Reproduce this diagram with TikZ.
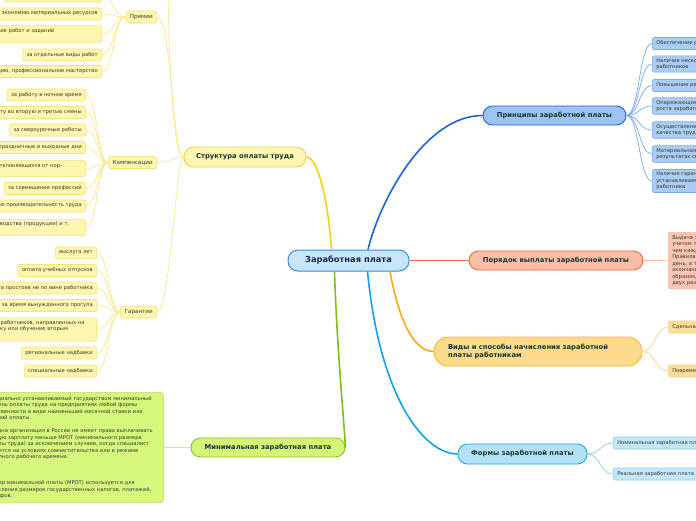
\documentclass[tikz,border=0pt]{standalone}
\usepackage{fontspec}
\setmainfont{DejaVu Sans}
\definecolor{rootfill}{RGB}{200,230,250}
\definecolor{rootline}{RGB}{60,140,220}
\definecolor{roottext}{RGB}{20,40,80}
\definecolor{brtext}{RGB}{25,55,45}
\definecolor{lftext}{RGB}{55,55,45}
\definecolor{prfill}{RGB}{155,195,245}
\definecolor{prline}{RGB}{25,100,215}
\definecolor{prleaf}{RGB}{170,205,248}
\definecolor{prtwig}{RGB}{120,170,240}
\definecolor{orfill}{RGB}{250,190,168}
\definecolor{orline}{RGB}{240,105,65}
\definecolor{orleaf}{RGB}{250,198,178}
\definecolor{ortwig}{RGB}{248,185,160}
\definecolor{kdfill}{RGB}{253,218,140}
\definecolor{kdline}{RGB}{250,185,40}
\definecolor{kdconn}{RGB}{250,170,20}
\definecolor{kdleaf}{RGB}{253,222,150}
\definecolor{kdtwig}{RGB}{250,210,130}
\definecolor{fmfill}{RGB}{180,225,250}
\definecolor{fmline}{RGB}{30,165,235}
\definecolor{fmconn}{RGB}{20,160,240}
\definecolor{fmleaf}{RGB}{195,232,250}
\definecolor{fmtwig}{RGB}{140,205,240}
\definecolor{stfill}{RGB}{255,246,180}
\definecolor{stline}{RGB}{240,215,60}
\definecolor{stconn}{RGB}{240,212,20}
\definecolor{stleaf}{RGB}{255,246,175}
\definecolor{sttwig}{RGB}{250,232,140}
\definecolor{mnfill}{RGB}{212,245,120}
\definecolor{mnline}{RGB}{135,195,30}
\definecolor{mnconn}{RGB}{130,190,20}
\definecolor{mnleaf}{RGB}{215,248,125}
\definecolor{mntwig}{RGB}{200,230,150}
\newcommand{\leafsize}{\fontsize{5.2}{6.5}\selectfont}

\begin{document}
\begin{tikzpicture}[x=1pt,y=-1pt,
      root/.style={draw=rootline,fill=rootfill,line width=1pt,rounded corners=10pt,
        minimum width=121,minimum height=21,text=roottext,
        font=\fontsize{8.3}{10}\selectfont\bfseries},
      branch/.style={line width=.9pt,rounded corners=9.5pt,minimum height=19,
        text=brtext,font=\fontsize{6.8}{8.5}\selectfont\bfseries},
      sub/.style={draw=stline!70,fill=stleaf,line width=.6pt,rounded corners=2pt,
        minimum height=12,inner xsep=4,text=lftext,font=\fontsize{5.6}{7}\selectfont},
      leaf/.style={line width=.6pt,rounded corners=2pt,minimum height=12,
        inner xsep=4,inner ysep=2.5,text=lftext,font=\leafsize},
      pl/.style={leaf,fill=prleaf,draw=prtwig,anchor=west,text width=260,align=left},
      sl/.style={leaf,fill=stleaf,draw=stline!70,anchor=east},
      conn/.style={line width=1.6pt},
      twig/.style={line width=.7pt}]
  \fill[white] (0,0) rectangle (696,520);
  \useasboundingbox (0,0) rectangle (696,520);
  \clip (0,0) rectangle (696,520);

  \node[root] (root) at (348.5,260.5) {Заработная плата};

  % main branches
  \node[branch,fill=prfill,draw=prline,minimum width=143] (princ) at (554.5,115.5)
    {Принципы заработной платы};
  \node[branch,fill=orfill,draw=orline,minimum width=174] (order) at (556,260.5)
    {Порядок выплаты заработной платы};
  \node[branch,fill=kdfill,draw=kdline,minimum height=29,rounded corners=14pt,
    text width=180,inner xsep=14,align=left] (kinds) at (538,351.5)
    {Виды и способы начисления заработной\\платы работникам};
  \node[branch,fill=fmfill,draw=fmline,minimum width=129,minimum height=20] (forms)
    at (522.5,454) {Формы заработной платы};
  \node[branch,fill=stfill,draw=stline,minimum width=122,minimum height=20] (struct)
    at (245,157) {Структура оплаты труда};
  \node[branch,fill=mnfill,draw=mnline,minimum width=154] (minpay) at (268,447.5)
    {Минимальная заработная плата};

  \draw[conn,draw=prline] ([xshift=19.5]root.north) .. controls (380,200) and (425,115.5) .. (princ.west);
  \draw[conn,draw=orline] (root.east) -- (order.west);
  \draw[conn,draw=kdconn] ([xshift=41.5]root.south) .. controls (398,315) and (412,351.5) .. (kinds.west);
  \draw[conn,draw=fmconn] ([xshift=19]root.south) .. controls (380,400) and (425,454) .. (forms.west);
  \draw[conn,draw=stconn] ([xshift=-17]root.north) .. controls (328,200) and (318,157) .. (struct.east);
  \draw[conn,draw=mnconn] ([xshift=-14]root.south) .. controls (337,350) and (344,420) .. (minpay.east);

  % principles
  \node[pl] (p1) at (652,43.5) {Обеспечение равной оплаты за равный труд};
  \node[pl] (p2) at (652,64) {Наличие нескольких форм оплаты для разных\\работников};
  \node[pl] (p3) at (652,85.5) {Повышение реальной заработной платы};
  \node[pl] (p4) at (652,106) {Опережающие темпы роста производительности труда над темпами\\роста заработной платы};
  \node[pl] (p5) at (652,130) {Осуществление дифференциации оплаты с учетом\\качества труда};
  \node[pl] (p6) at (652,154) {Материальная заинтересованность работников в\\результатах своего труда};
  \node[pl] (p7) at (652,181) {Наличие гарантий оплаты труда,\\устанавливаемых государством для каждого\\работника};
  \foreach \i in {1,...,7}
    \draw[twig,draw=prtwig] (princ.east) .. controls +(13,0) and +(-13,0) .. (p\i.west);

  % order
  \node[leaf,fill=orleaf,draw=ortwig,anchor=north west,text width=200,align=left,inner ysep=3]
    (o1) at (668,232) {Выдача заработной платы производится с\\учетом того, что она выплачивается не реже,\\чем
    каждые полмесяца.\\Правила устанавливают конкретный\\день, а также сроки выплаты по\\окончании
    периода. Таким\\образом, выплата производится не менее\\двух раз в месяц.};
  \draw[twig,draw=ortwig] (order.east) -- (o1.west);

  % kinds
  \node[leaf,fill=kdleaf,draw=kdtwig,anchor=west,text width=150,align=left] (k1) at (668,327)
    {Сдельная оплата труда};
  \node[leaf,fill=kdleaf,draw=kdtwig,anchor=west,text width=150,align=left] (k2) at (668,371)
    {Повременная оплата труда};
  \foreach \i in {1,2}
    \draw[twig,draw=kdtwig] (kinds.east) .. controls +(13,0) and +(-13,0) .. (k\i.west);

  % forms
  \node[leaf,fill=fmleaf,draw=fmtwig,anchor=west,text width=150,align=left] (f1) at (613,443)
    {Номинальная заработная плата};
  \node[leaf,fill=fmleaf,draw=fmtwig,anchor=west,text width=150,align=left] (f2) at (613,474)
    {Реальная заработная плата};
  \foreach \i in {1,2}
    \draw[twig,draw=fmtwig] (forms.east) .. controls +(13,0) and +(-13,0) .. (f\i.west);

  % structure
  \node[sub,anchor=east] (bonus) at (157,17) {Премии};
  \node[sub,anchor=east] (comp) at (157,162.5) {Компенсации};
  \node[sub,anchor=east] (guar) at (157,312) {Гарантии};
  \coordinate (sttop) at (168,-30);
  \draw[twig,draw=sttwig] (struct.west) .. controls (172,157) and (168,40) .. (sttop);
  \draw[twig,draw=sttwig] (struct.west) .. controls (172,157) and (172,17) .. (bonus.east);
  \draw[twig,draw=sttwig] (struct.west) .. controls (172,157) and (170,162.5) .. (comp.east);
  \draw[twig,draw=sttwig] (struct.west) .. controls (176,157) and (170,312) .. (guar.east);

  \node[sl] (b0) at (102,-4) {за высокие показатели в работе};
  \node[sl] (b1) at (102,14) {за экономию материальных ресурсов};
  \node[sl,text width=176,align=left] (b2) at (102,34) {за своевременное выполнение работ и заданий\\в срок};
  \node[sl] (b3) at (102,55) {за отдельные виды работ};
  \node[sl] (b4) at (102,71.5) {за высокую квалификацию, профессиональное мастерство};
  \foreach \i in {0,...,4}
    \draw[twig,draw=sttwig] (bonus.west) .. controls +(-12,0) and +(12,0) .. (b\i.east);

  \node[sl] (c1) at (86,95) {за работу в ночное время};
  \node[sl] (c2) at (86,112.5) {за работу во вторую и третью смены};
  \node[sl] (c3) at (86,130) {за сверхурочные работы};
  \node[sl] (c4) at (86,147.5) {за работу в праздничные и выходные дни};
  \node[sl,text width=147,align=left] (c5) at (86,168.5) {за работу в условиях, отклоняющихся от нор-\\мальных};
  \node[sl] (c6) at (86,188.5) {за совмещение профессий};
  \node[sl] (c7) at (86,206) {за высокую производительность труда};
  \node[sl,text width=161,align=left] (c8) at (86,227.5) {за повышение объема производства (продукции) и т.\\д.};
  \foreach \i in {1,...,8}
    \draw[twig,draw=sttwig] (comp.west) .. controls +(-12,0) and +(12,0) .. (c\i.east);

  \node[sl] (g1) at (97,253) {выслуга лет};
  \node[sl] (g2) at (97,270.5) {оплата учебных отпусков};
  \node[sl] (g3) at (97,288) {оплата простоев не по вине работника};
  \node[sl] (g4) at (97,305.5) {оплата за время вынужденного прогула};
  \node[sl,text width=131,align=left] (g5) at (97,329.5) {оплата труда работников, направленных на\\переподготовку или обучение вторым\\профессиям};
  \node[sl] (g6) at (97,353) {региональные надбавки};
  \node[sl] (g7) at (97,371) {специальные надбавки};
  \foreach \i in {1,...,7}
    \draw[twig,draw=sttwig] (guar.west) .. controls +(-12,0) and +(12,0) .. (g\i.east);

  % minimum wage
  \node[leaf,fill=mnleaf,draw=mnline!60,anchor=north east,text width=174,align=left,
    inner ysep=4,rounded corners=4pt] (m1) at (164,392)
    {Официально устанавливаемый государством минимальный\\уровень оплаты труда на предприятиях любой формы\\собственности
    в виде наименьшей месячной ставки или\\часовой оплаты.\\[6.5pt]Ни одна организация в России не имеет права
    выплачивать\\полную зарплату меньше МРОТ (минимального размера\\оплаты труда) за исключением случаев,
    когда специалист\\трудится на условиях совместительства или в режиме\\неполного рабочего времени.\\[19.5pt]Размер
    минимальной платы (МРОТ) используется для\\исчисления размеров государственных налогов, платежей,\\штрафов.};
  \draw[twig,draw=mntwig] (minpay.west) -- (m1.east |- minpay.west);
\end{tikzpicture}
\end{document}
